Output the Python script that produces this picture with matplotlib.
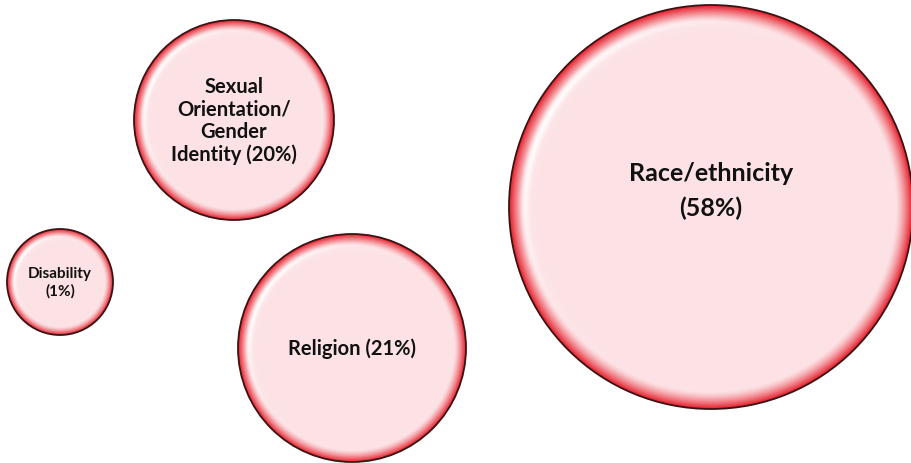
import numpy as np
import matplotlib
matplotlib.use("Agg")
from matplotlib import pyplot as plt
from matplotlib.patches import Circle

# data
labels = ["Disability\n(1%)", "Sexual\nOrientation/\nGender\nIdentity (20%)",
          "Religion (21%)", "Race/ethnicity\n(58%)"]
shares = [1, 20, 21, 58]
x = [60, 234, 352, 711]
y = [181, 343, 115, 256]
radius = [53, 100, 114, 202]
font_sizes = [11, 14.5, 14.5, 18]
line_spacing = [1.3, 1.15, 1.2, 1.6]
label_shift = [0, 0, 0, 17]

W, H = 911, 464


def bubble(ax, cx, cy, r):
    n = 400
    gx = np.linspace(cx - r, cx + r, n)
    gy = np.linspace(cy - r, cy + r, n)
    X, Y = np.meshgrid(gx, gy)
    d = np.sqrt((X - cx) ** 2 + (Y - cy) ** 2) / r
    rim = 0.06 + 5.0 / r
    t = np.clip((d - (1 - rim)) / rim, 0, 1) ** 1.4
    inner = np.array([0.99, 0.89, 0.90])
    edge = np.array([0.90, 0.12, 0.17])
    img = inner + (edge - inner) * t[..., None]
    # white highlight on upper-left inner rim
    ang = np.arctan2(Y - cy, X - cx)
    hl = np.exp(-((d - (1 - rim * 0.9)) / (rim * 0.25)) ** 2)
    hl *= np.clip(np.cos(ang - np.deg2rad(150)), 0, 1) ** 2
    img = img + (1 - img) * hl[..., None] * 0.9
    im = ax.imshow(img, extent=[cx - r, cx + r, cy - r, cy + r],
                   origin="lower", interpolation="bilinear", zorder=1)
    clip = Circle((cx, cy), r, transform=ax.transData)
    im.set_clip_path(clip)
    ax.add_patch(Circle((cx, cy), r, fill=False, edgecolor="#3a1414",
                        linewidth=1.3, zorder=2))


fig = plt.figure(figsize=(W / 100, H / 100), dpi=100)
ax = fig.add_axes([0, 0, 1, 1])
for i in range(len(labels)):
    bubble(ax, x[i], y[i], radius[i])
    ax.text(x[i], y[i] + label_shift[i], labels[i], ha="center", va="center",
            fontsize=font_sizes[i], fontweight="bold", family="Lato",
            color="#111111", linespacing=line_spacing[i], zorder=3)
ax.set_xlim(0, W)
ax.set_ylim(0, H)
ax.set_aspect("equal")
ax.axis("off")
fig.savefig("out.png", dpi=100)
